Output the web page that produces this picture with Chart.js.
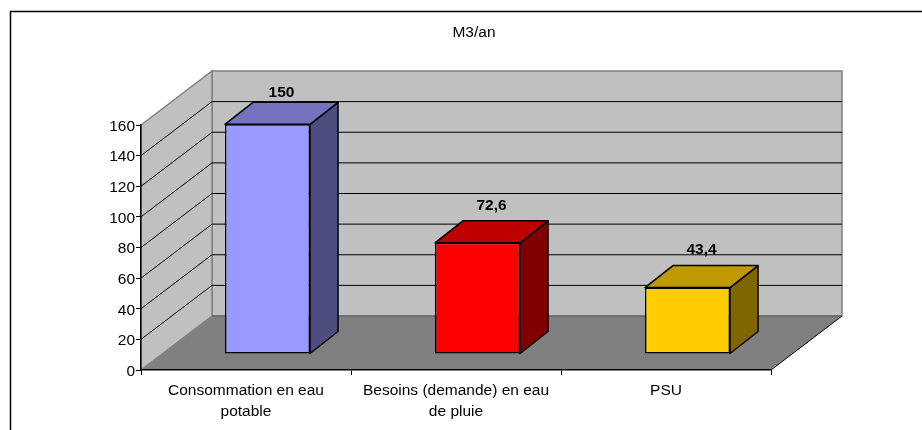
<!DOCTYPE html>
<html lang="fr">
<head>
  <meta charset="UTF-8">
  <title>M3/an</title>
  <script src="https://cdn.jsdelivr.net/npm/chart.js"></script>
  <style>
    body { margin: 0; background: #ffffff; }
    .chart-container { width: 922px; height: 430px; }
  </style>
</head>
<body>
  <div class="chart-container">
    <canvas id="waterChart" width="922" height="430"></canvas>
  </div>

  <script>
    const categories = [["Consommation en eau", "potable"], ["Besoins (demande) en eau", "de pluie"], "PSU"];
    const values = [150, 72.6, 43.4];
    const frontColors = ["#9999ff", "#ff0000", "#ffcc00"];
    const topColors = ["#7373bf", "#bf0000", "#bf9900"];
    const sideColors = ["#4d4d80", "#800000", "#806600"];
    const chartTitle = "M3/an";

    const fontFamily = "'Liberation Sans', Arial, sans-serif";

    // how far the back wall sits from the front axes
    const wallDx = 71, wallDy = -54;
    // bars stand in the middle of the floor, with their own depth
    const barDx = 21.5, barDy = -16;
    const depthDx = 28, depthDy = -22;

    function poly(ctx, points, fill, stroke, lineWidth) {
      ctx.beginPath();
      points.forEach((p, i) => i ? ctx.lineTo(p[0], p[1]) : ctx.moveTo(p[0], p[1]));
      ctx.closePath();
      if (fill) { ctx.fillStyle = fill; ctx.fill(); }
      if (stroke) { ctx.strokeStyle = stroke; ctx.lineWidth = lineWidth; ctx.stroke(); }
    }

    const box3d = {
      id: 'box3d',
      afterLayout(chart) {
        // the title is centred on the whole chart object, not on the plot
        chart.titleBlock.left = 26;
        chart.titleBlock.right = 922;
      },
      beforeDraw(chart) {
        const { ctx, chartArea: a, scales: { y } } = chart;
        ctx.save();
        // outer frame of the chart object, runs off the page
        ctx.strokeStyle = '#000';
        ctx.lineWidth = 1.5;
        ctx.beginPath();
        ctx.moveTo(10.5, 430);
        ctx.lineTo(10.5, 11.5);
        ctx.lineTo(922, 11.5);
        ctx.stroke();

        const L = a.left, R = a.right, T = a.top, B = a.bottom;
        poly(ctx, [[L + wallDx, T + wallDy], [R + wallDx, T + wallDy], [R + wallDx, B + wallDy], [L + wallDx, B + wallDy]], '#c0c0c0', '#808080', 1.5);
        poly(ctx, [[L, T], [L + wallDx, T + wallDy], [L + wallDx, B + wallDy], [L, B]], '#c0c0c0', '#808080', 1.5);

        ctx.strokeStyle = '#000';
        ctx.lineWidth = 1;
        y.ticks.forEach(t => {
          if (t.value === 0 || t.value === y.max) return;
          const py = y.getPixelForValue(t.value);
          ctx.beginPath();
          ctx.moveTo(L, py);
          ctx.lineTo(L + wallDx, py + wallDy);
          ctx.lineTo(R + wallDx, py + wallDy);
          ctx.stroke();
        });

        poly(ctx, [[L, B], [R, B], [R + wallDx, B + wallDy], [L + wallDx, B + wallDy]], '#808080');
        ctx.strokeStyle = '#555';
        ctx.lineWidth = 1;
        ctx.beginPath();
        ctx.moveTo(L + wallDx, B + wallDy);
        ctx.lineTo(R + wallDx, B + wallDy);
        ctx.stroke();
        ctx.strokeStyle = '#000';
        ctx.beginPath();
        ctx.moveTo(R, B);
        ctx.lineTo(R + wallDx, B + wallDy);
        ctx.stroke();
        ctx.restore();
      },
      beforeDatasetsDraw(chart) {
        const ctx = chart.ctx;
        ctx.save();
        ctx.translate(barDx, barDy);
        ctx.lineJoin = 'round';
        chart.getDatasetMeta(0).data.forEach((bar, i) => {
          const x0 = bar.x - bar.width / 2, x1 = bar.x + bar.width / 2;
          poly(ctx, [[x1, bar.y], [x1 + depthDx, bar.y + depthDy], [x1 + depthDx, bar.base + depthDy], [x1, bar.base]], sideColors[i], '#000', 1.5);
          poly(ctx, [[x0, bar.y], [x0 + depthDx, bar.y + depthDy], [x1 + depthDx, bar.y + depthDy], [x1, bar.y]], topColors[i], '#000', 1.5);
        });
      },
      afterDatasetsDraw(chart) {
        const ctx = chart.ctx;
        ctx.restore();
        ctx.save();
        ctx.font = "bold 15.5px " + fontFamily;
        ctx.fillStyle = '#000';
        ctx.textAlign = 'center';
        ctx.textBaseline = 'middle';
        chart.getDatasetMeta(0).data.forEach((bar, i) => {
          const label = String(values[i]).replace('.', ',');
          // labels float above the bar but stay inside the plot box
          const py = Math.max(bar.y + barDy - 37.5, 93);
          ctx.fillText(label, bar.x + barDx + depthDx / 2, py);
        });
        ctx.restore();
      }
    };

    new Chart(document.getElementById('waterChart'), {
      type: 'bar',
      data: {
        labels: categories,
        datasets: [{
          data: values,
          backgroundColor: frontColors,
          borderColor: '#000',
          borderWidth: 1.5,
          borderSkipped: false,
          barPercentage: 0.405,
          categoryPercentage: 1,
          clip: false
        }]
      },
      options: {
        responsive: false,
        animation: false,
        layout: { padding: { left: 26, right: 151, top: 0, bottom: 0 } },
        plugins: {
          legend: { display: false },
          tooltip: { enabled: false },
          title: {
            display: true,
            text: chartTitle,
            color: '#000',
            font: { family: fontFamily, size: 15.5, weight: 'normal', lineHeight: 1.2 },
            padding: { top: 23.7, bottom: 82.7 }
          }
        },
        scales: {
          x: {
            afterFit(scale) { scale.height = 60; },
            border: { color: '#000', width: 1.5 },
            grid: { drawOnChartArea: false, drawTicks: true, tickLength: 5, tickColor: '#000', offset: true },
            ticks: {
              color: '#000',
              autoSkip: false,
              maxRotation: 0,
              padding: 5,
              font: { family: fontFamily, size: 15.5, lineHeight: 1.355 }
            }
          },
          y: {
            min: 0,
            max: 160,
            afterFit(scale) { scale.width = 115; },
            border: { color: '#000', width: 1.5 },
            grid: { drawOnChartArea: false, drawTicks: true, tickLength: 5, tickColor: '#000' },
            ticks: {
              color: '#000',
              stepSize: 20,
              padding: 1,
              labelOffset: 1.5,
              font: { family: fontFamily, size: 15.5 }
            }
          }
        }
      },
      plugins: [box3d]
    });
  </script>
</body>
</html>
